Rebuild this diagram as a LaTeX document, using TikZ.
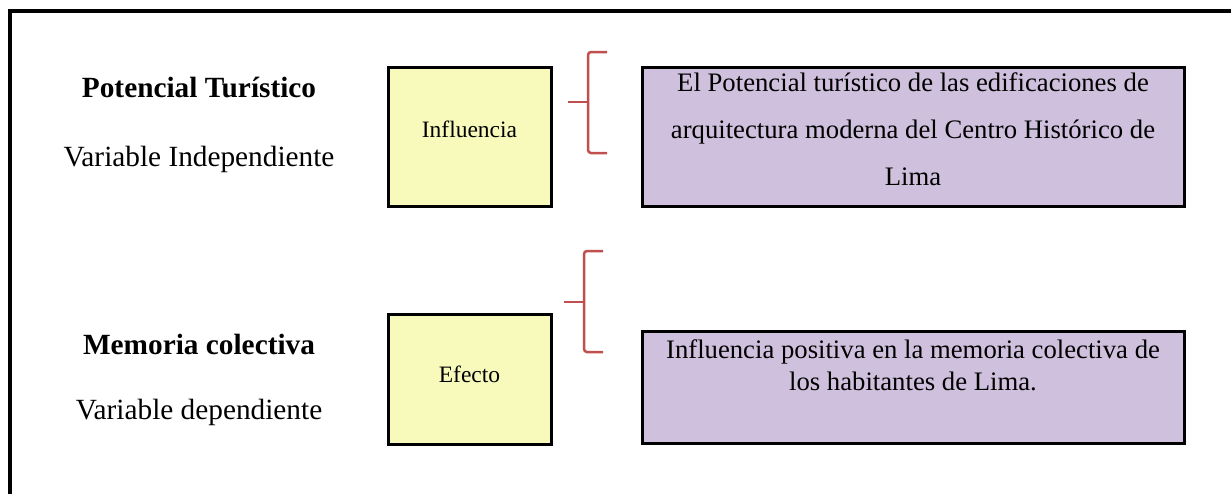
\documentclass[tikz,border=0pt]{standalone}
\usepackage{fontspec}
\setmainfont{Liberation Serif}
\definecolor{ybox}{HTML}{F7FABB}
\definecolor{pbox}{HTML}{CFC1DD}
\definecolor{bred}{HTML}{C0504D}
\begin{document}
\begin{tikzpicture}[x=1pt,y=-1pt,
  smallbox/.style={draw=black,line width=3pt,fill=ybox,minimum width=163pt,minimum height=139pt,inner sep=0pt},
  smalltxt/.style={font=\fontsize{23.5}{28}\selectfont,inner sep=0pt,anchor=base},
  textbox/.style={draw=black,line width=3pt,fill=pbox,minimum width=542pt,inner sep=0pt},
  boxtxt/.style={align=center,font=\fontsize{26.7}{47}\selectfont,inner sep=0pt,anchor=base},
  lbl/.style={font=\fontsize{29.3}{32}\selectfont,inner sep=0pt,anchor=base},
  blbl/.style={lbl,font=\fontsize{29.3}{32}\selectfont\bfseries},
  brace/.style={draw=bred,line width=2.5pt,rounded corners=3pt}]
\useasboundingbox (0,0) rectangle (1231,493);
\clip (0,0) rectangle (1231,493);
\draw[line width=3.3pt] (10,600) -- (10,11) -- (1300,11);
% left labels
\node[blbl] (pt) at (199,97) {Potencial Turístico};
\node[lbl] (vi) at (199,166) {Variable Independiente};
\node[blbl] (mc) at (199,354) {Memoria colectiva};
\node[lbl] (vd) at (199,419) {Variable dependiente};
% yellow boxes
\node[smallbox] (inf) at (469.5,136.5) {};
\node[smalltxt] (inft) at (469.5,137) {Influencia};
\node[smallbox,minimum height=130pt] (efe) at (469.5,379) {};
\node[smalltxt] (efet) at (469.5,382) {Efecto};
% purple boxes
\node[textbox,minimum height=139pt] (t1) at (913,136.5) {};
\node[boxtxt] (t1t) at (913,185) {El Potencial turístico de las edificaciones de\\arquitectura moderna del Centro Histórico de\\Lima};
\node[textbox,minimum height=112pt] (t2) at (913,387) {};
\node[boxtxt,font=\fontsize{26.7}{32}\selectfont] (t2t) at (913,390) {Influencia positiva en la memoria colectiva de\\los habitantes de Lima.};
% braces
\draw[brace] (607,52) -- (588,52) -- (588,153) -- (607,153);
\draw[brace,rounded corners=0pt] (588,102) -- (568,102);
\draw[brace] (603,251) -- (584,251) -- (584,352) -- (603,352);
\draw[brace,rounded corners=0pt] (584,302) -- (564,302);
\end{tikzpicture}
\end{document}
